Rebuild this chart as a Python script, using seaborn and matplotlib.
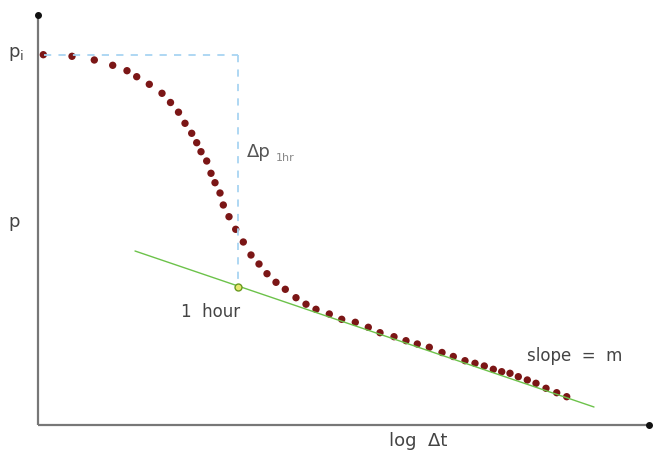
import matplotlib
matplotlib.use("Agg")
import matplotlib.pyplot as plt
import seaborn as sns
import pandas as pd

# buildup curve (x = log dt, y = p, screen-like units, y grows down)
log_dt = [43.3, 72, 94.3, 112.7, 127, 136.7, 149.3, 162, 170.5, 178.5, 185, 191.7,
          196.7, 201, 206.7, 211, 215, 220, 223.3, 229, 235.7, 243.3, 251, 259, 267,
          276, 285.3, 296, 306, 316, 329.3, 341.7, 355.3, 368.3, 380, 394, 406, 417.3,
          429.3, 442, 453.3, 465, 475, 484.3, 493.3, 501.7, 510, 518.3, 527.3, 536,
          546, 556.7, 566.7]
p = [54.7, 56.3, 60, 65.3, 70.7, 76.7, 84.3, 93.3, 102.5, 112.2, 123.3, 133.3,
     142.7, 151.7, 161, 173.3, 182.7, 193, 205, 216.7, 229.3, 242, 255, 264, 273.7,
     282.3, 289.3, 297.7, 304.2, 309.3, 314, 319.3, 322.3, 327.3, 332.7, 336.7, 340.7, 344,
     347.3, 352.5, 356.5, 360.7, 363.3, 366, 369.3, 371.7, 373.3, 376.7, 380, 383.3,
     388.3, 392.7, 396.7]

# straight-line (semilog) part
slope_x = [135, 594]
slope_y = [251, 407]
# p at 1 hour on the straight line and initial pressure
x_1hr, y_1hr = 238, 286.5
p_i = 54.5

df = pd.DataFrame({"log_dt": log_dt, "p": p})

sns.set_style("white")
plt.rcParams["font.family"] = ["DejaVu Sans"]

fig = plt.figure(figsize=(6.53, 4.51), dpi=100)
ax = fig.add_axes([0, 0, 1, 1])
ax.set_xlim(0, 653)
ax.set_ylim(451, 0)
ax.axis("off")

# axes drawn by hand (arrows with round ends)
ax.plot([38, 38], [425, 15], color="#777777", lw=1.6, solid_capstyle="butt")
ax.plot([38, 649], [425, 425], color="#777777", lw=1.6, solid_capstyle="butt")
ax.plot([38], [15], "o", color="#111111", ms=4)
ax.plot([649], [425], "o", color="#111111", ms=4)

# dashed guides to p_i and 1 hour
ax.plot([44, x_1hr], [p_i, p_i], color="#a8d4f2", lw=1.3, ls=(0, (4, 4)))
ax.plot([x_1hr, x_1hr], [p_i, y_1hr], color="#a8d4f2", lw=1.3, ls=(0, (4, 4)))

sns.lineplot(x=slope_x, y=slope_y, color="#6cc24a", lw=1, ax=ax)
sns.scatterplot(data=df, x="log_dt", y="p", color="#7b1616", s=28, edgecolor="none", ax=ax)
ax.plot([x_1hr], [y_1hr], "o", mfc="#e8e870", mec="#6a9a20", ms=5, mew=1)

txt = dict(color="#444444", fontsize=12)
ax.text(8, 54, "p$_\\mathregular{i}$", va="center", ha="left", fontsize=13, color="#444444")
ax.text(8, 222, "p", va="center", ha="left", fontsize=13, color="#444444")
ax.text(247, 152, "Δp", va="center", ha="left", fontsize=13, color="#555555")
ax.text(276, 158, "1hr", va="center", ha="left", fontsize=8, color="#888888")
ax.text(181, 312, "1  hour", va="center", ha="left", **txt)
ax.text(527, 356, "slope  =  m", va="center", ha="left", **txt)
ax.text(389, 441, "log  Δt", va="center", ha="left", fontsize=13, color="#444444")

fig.savefig("out.png", dpi=100)
